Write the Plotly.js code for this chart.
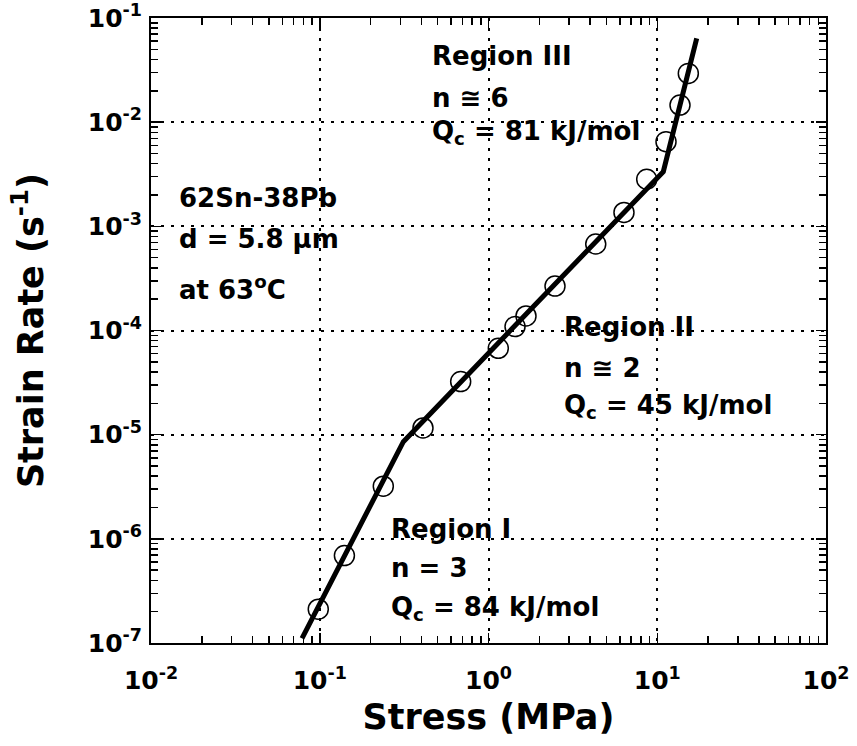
<!DOCTYPE html>
<html>
<head>
<meta charset="utf-8">
<script src="https://cdn.plot.ly/plotly-3.0.1.min.js"></script>
<style>html,body{margin:0;padding:0;background:#fff;}#chart{width:857px;height:746px;}</style>
</head>
<body>
<div id="chart"></div>
<script>
// Measured data points (open circles)
const stress = [0.098, 0.140, 0.238, 0.409, 0.684, 1.143, 1.436, 1.668, 2.478, 4.32, 6.35, 8.66, 11.27, 13.64, 15.28];
const strainRate = [2.11e-7, 6.9e-7, 3.2e-6, 1.16e-5, 3.23e-5, 6.75e-5, 1.09e-4, 1.38e-4, 2.67e-4, 6.77e-4, 1.36e-3, 2.83e-3, 6.5e-3, 1.46e-2, 2.94e-2];

// Fitted three-regime line (endpoints and kinks)
const fitStress = [0.0785, 0.313, 10.86, 17.13];
const fitRate = [1.11e-7, 8.57e-6, 3.35e-3, 6.38e-2];

// Tick values and labels
const xTickVals = [0.01, 0.1, 1, 10, 100];
const xTickText = ['10<sup>-2</sup>', '10<sup>-1</sup>', '10<sup>0</sup>', '10<sup>1</sup>', '10<sup>2</sup>'];
const yTickVals = [1e-7, 1e-6, 1e-5, 1e-4, 1e-3, 1e-2, 1e-1];
const yTickText = ['10<sup>-7</sup>', '10<sup>-6</sup>', '10<sup>-5</sup>', '10<sup>-4</sup>', '10<sup>-3</sup>', '10<sup>-2</sup>', '10<sup>-1</sup>'];

function minorVals(decades) {
  const out = [];
  decades.forEach(d => { for (let k = 2; k <= 9; k++) out.push(k * d); });
  return out;
}

const FONT = 'DejaVu Sans';
const annFont = {family: FONT, size: 26, color: '#000', weight: 'bold'};

function ann(text, x, y) {
  return {text: text, x: x, y: y, xref: 'paper', yref: 'paper', xanchor: 'left', yanchor: 'middle',
          showarrow: false, font: annFont};
}

const traces = [
  {x: stress, y: strainRate, mode: 'markers', type: 'scatter',
   marker: {symbol: 'circle-open', size: 20, color: '#000', line: {width: 1.5, color: '#000'}},
   showlegend: false, hoverinfo: 'x+y'},
  {x: fitStress, y: fitRate, mode: 'lines', type: 'scatter',
   line: {color: '#000', width: 5}, showlegend: false, hoverinfo: 'skip'}
];

const axisCommon = {
  type: 'log', showline: true, linecolor: '#000', linewidth: 2, mirror: 'ticks',
  ticks: 'inside', ticklen: 10, tickwidth: 1.5, tickcolor: '#000',
  showgrid: true, gridcolor: '#000', gridwidth: 2, griddash: '3px,7px',
  zeroline: false, tickmode: 'array',
  tickfont: {family: FONT, size: 25, color: '#000', weight: 'bold'}
};

const layout = {
  width: 857, height: 746,
  margin: {l: 151, r: 31, t: 18, b: 103},
  paper_bgcolor: '#fff', plot_bgcolor: '#fff',
  xaxis: Object.assign({}, axisCommon, {
    range: [-2, 2], tickvals: xTickVals, ticktext: xTickText, ticklabelstandoff: 14,
    minor: {tickmode: 'array', tickvals: minorVals([0.01, 0.1, 1, 10]), ticks: 'inside', ticklen: 7, tickwidth: 1.5, tickcolor: '#000', showgrid: false},
    title: {text: 'Stress (MPa)', font: {family: FONT, size: 35, color: '#000', weight: 'bold'}, standoff: 10}
  }),
  yaxis: Object.assign({}, axisCommon, {
    range: [-7, -1], tickvals: yTickVals, ticktext: yTickText, ticklabelstandoff: 2,
    minor: {tickmode: 'array', tickvals: minorVals([1e-7, 1e-6, 1e-5, 1e-4, 1e-3, 1e-2]), ticks: 'inside', ticklen: 7, tickwidth: 1.5, tickcolor: '#000', showgrid: false},
    title: {text: 'Strain Rate (s<sup>-1</sup>)', font: {family: FONT, size: 35, color: '#000', weight: 'bold'}, standoff: 34}
  }),
  shapes: [
    {type: 'rect', xref: 'paper', yref: 'paper', x0: 0.0207, x1: 0.3067, y0: 0.5248, y1: 0.7536, fillcolor: '#fff', line: {width: 0}, layer: 'between'},
    {type: 'rect', xref: 'paper', yref: 'paper', x0: 0.388, x1: 0.732, y0: 0.765, y1: 0.998, fillcolor: '#fff', line: {width: 0}, layer: 'between'},
    {type: 'rect', xref: 'paper', yref: 'paper', x0: 0.606, x1: 0.927, y0: 0.3376, y1: 0.5408, fillcolor: '#fff', line: {width: 0}, layer: 'between'},
    {type: 'rect', xref: 'paper', yref: 'paper', x0: 0.339, x1: 0.677, y0: 0.003, y1: 0.2176, fillcolor: '#fff', line: {width: 0}, layer: 'between'}
  ],
  annotations: [
    ann('62Sn-38Pb', 0.0385, 0.7128),
    ann('d = 5.8 \u03bcm', 0.0385, 0.6464),
    ann('at 63<sup>o</sup>C', 0.0385, 0.568),
    ann('Region III', 0.4133, 0.9392),
    ann('n \u2245 6', 0.4133, 0.872),
    ann('Q<sub>c</sub> = 81 kJ/mol', 0.4133, 0.8176),
    ann('Region II', 0.6089, 0.5056),
    ann('n \u2245 2', 0.6089, 0.44),
    ann('Q<sub>c</sub> = 45 kJ/mol', 0.6089, 0.3792),
    ann('Region I', 0.3526, 0.1824),
    ann('n = 3', 0.3526, 0.12),
    ann('Q<sub>c</sub> = 84 kJ/mol', 0.3526, 0.056)
  ]
};

Plotly.newPlot('chart', traces, layout, {displayModeBar: false, staticPlot: true});
</script>
</body>
</html>
